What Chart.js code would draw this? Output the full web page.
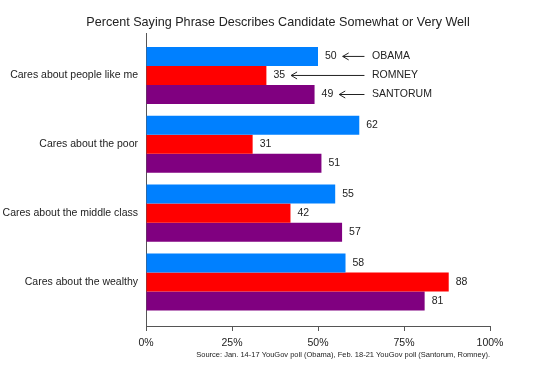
<!DOCTYPE html>
<html><head><meta charset="utf-8">
<script src="https://cdn.jsdelivr.net/npm/chart.js@4"></script>
<style>html,body{margin:0;padding:0;background:#fff}#w{width:535px;height:377px}</style>
</head><body><div id="w"><canvas id="c"></canvas></div>
<script>
const categories = ["Cares about people like me","Cares about the poor","Cares about the middle class","Cares about the wealthy"];
const candidates = ["OBAMA","ROMNEY","SANTORUM"];
const obama = [50,62,55,58];
const romney = [35,31,42,88];
const santorum = [49,51,57,81];
const xTicks = [0,25,50,75,100];
const colors = ["#0080ff","#ff0000","#800080"];
const titleText = "Percent Saying Phrase Describes Candidate Somewhat or Very Well";
const sourceText = "Source: Jan. 14-17 YouGov poll (Obama), Feb. 18-21 YouGov poll (Santorum, Romney).";
const FONT = "'Liberation Sans', Arial, sans-serif";

const series = [obama, romney, santorum];
const datasets = series.map((vals, k) => ({
  label: candidates[k],
  data: vals.map((v, i) => ({x: v, y: i})),
  backgroundColor: colors[k],
  borderWidth: 0,
  categoryPercentage: 0.83,
  barPercentage: 1
}));

const annot = {
  id: 'annot',
  afterDatasetsDraw(chart) {
    const ctx = chart.ctx, xs = chart.scales.x;
    ctx.save();
    ctx.fillStyle = '#222';
    ctx.font = "10.5px " + FONT;
    ctx.textBaseline = 'middle';
    ctx.textAlign = 'left';
    chart.data.datasets.forEach((ds, k) => {
      const meta = chart.getDatasetMeta(k);
      meta.data.forEach((bar, i) => {
        const txt = String(ds.data[i].x);
        const tx = bar.x + 7;
        ctx.fillText(txt, tx, bar.y);
        if (i === 0) {
          const w = ctx.measureText(txt).width;
          const ax0 = tx + w + 6;
          const ax1 = xs.getPixelForValue(63.5);
          ctx.strokeStyle = '#222';
          ctx.lineWidth = 1;
          ctx.beginPath();
          ctx.moveTo(ax0, bar.y); ctx.lineTo(ax1, bar.y);
          ctx.moveTo(ax0 + 6, bar.y - 3.5); ctx.lineTo(ax0, bar.y); ctx.lineTo(ax0 + 6, bar.y + 3.5);
          ctx.stroke();
          ctx.fillText(ds.label, xs.getPixelForValue(65.7), bar.y);
        }
      });
    });
    ctx.font = "12.6px " + FONT;
    ctx.textAlign = 'center';
    ctx.fillText(titleText, 278, 23);
    ctx.font = "7.5px " + FONT;
    ctx.textAlign = 'right';
    ctx.fillText(sourceText, xs.right, 355);
    ctx.restore();
  }
};

new Chart(document.getElementById('c'), {
  type: 'bar',
  data: { datasets },
  options: {
    indexAxis: 'y',
    responsive: true,
    maintainAspectRatio: false,
    animation: false,
    layout: { padding: { top: 33, right: 45, left: 0, bottom: 0 } },
    plugins: { legend: { display: false }, tooltip: { enabled: false }, title: { display: false } },
    scales: {
      x: {
        type: 'linear', min: 0, max: 100, offset: false,
        afterBuildTicks: s => { s.ticks = xTicks.map(v => ({value: v})); },
        afterFit: s => { s.height = 51; },
        grid: { drawOnChartArea: false, drawTicks: true, tickLength: 5, color: '#555', offset: false },
        border: { display: true, color: '#555', width: 1 },
        ticks: { color: '#222', font: { size: 10.5, family: FONT }, padding: 6, maxRotation: 0, callback: v => v + '%' }
      },
      y: {
        type: 'linear', reverse: true, min: -0.617, max: 3.64, offset: false,
        afterBuildTicks: s => { s.ticks = categories.map((_, i) => ({value: i})); },
        afterFit: s => { s.width = 146; },
        grid: { drawOnChartArea: false, drawTicks: false, color: '#555', offset: false },
        border: { display: true, color: '#555', width: 1 },
        ticks: { color: '#222', font: { size: 10.5, family: FONT }, padding: 8, callback: v => categories[v] }
      }
    }
  },
  plugins: [annot]
});
</script></body></html>
